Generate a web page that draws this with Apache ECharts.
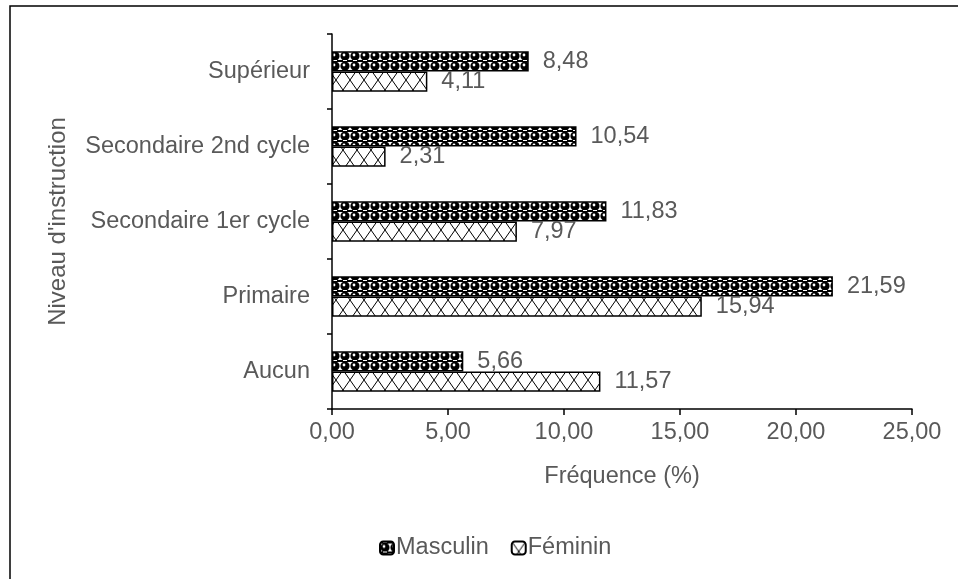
<!DOCTYPE html>
<html>
<head>
<meta charset="utf-8">
<script src="https://cdn.jsdelivr.net/npm/echarts@6/dist/echarts.min.js"></script>
<style>
  html, body { margin: 0; padding: 0; background: #fff; }
  #chart { width: 958px; height: 579px; }
</style>
</head>
<body>
<div id="chart"></div>
<script>
// Niveau d'instruction, bottom to top on the category axis
const categories = ['Aucun', 'Primaire', 'Secondaire 1er cycle', 'Secondaire 2nd cycle', 'Supérieur'];
const masculin = [5.66, 21.59, 11.83, 10.54, 8.48];
const feminin = [11.57, 15.94, 7.97, 2.31, 4.11];
const xTicks = [0, 5, 10, 15, 20, 25];

const FONT = '"Liberation Sans", Arial, sans-serif';
const GREY = '#595959';
const FS = 23.5;

// Dark sphere-like fill for "Masculin"
function spherePattern() {
  const c = document.createElement('canvas');
  c.width = 10; c.height = 10;
  const g = c.getContext('2d');
  g.fillStyle = '#fff';
  g.fillRect(0, 0, 10, 10);
  g.fillStyle = '#000';
  g.fillRect(0, 0, 10, 2);
  g.beginPath();
  g.arc(5, 6, 4.6, 0, Math.PI * 2);
  g.fill();
  g.fillStyle = '#fff';
  g.fillRect(3, 0, 4, 1);
  g.beginPath();
  g.arc(4, 5, 1.4, 0, Math.PI * 2);
  g.fill();
  return c;
}

// White fill with a black diagonal lattice for "Féminin"
function latticePattern() {
  const c = document.createElement('canvas');
  c.width = 14; c.height = 20;
  const g = c.getContext('2d');
  g.fillStyle = '#fff';
  g.fillRect(0, 0, 14, 20);
  g.strokeStyle = '#000';
  g.lineWidth = 1;
  g.beginPath();
  g.moveTo(0, 0); g.lineTo(14, 20);
  g.moveTo(14, 0); g.lineTo(0, 20);
  g.stroke();
  return c;
}

const fmt = v => v.toFixed(2).replace('.', ',');

const chart = echarts.init(document.getElementById('chart'), null, { renderer: 'canvas' });

const labelStyle = {
  show: true,
  position: 'right',
  distance: 14,
  color: GREY,
  fontFamily: FONT,
  fontSize: FS,
  formatter: p => fmt(p.value)
};

chart.setOption({
  animation: false,
  backgroundColor: '#fff',
  graphic: [{
    type: 'rect',
    shape: { x: 10, y: 6, width: 960, height: 590 },
    style: { fill: 'none', stroke: '#000', lineWidth: 1.5 },
    silent: true,
    z: -1
  }],
  grid: { left: 332, top: 34, width: 580, height: 375 },
  legend: {
    top: 531,
    left: 374,
    itemWidth: 14,
    itemHeight: 13,
    itemGap: 22,
    textStyle: { color: GREY, fontFamily: FONT, fontSize: FS, padding: [0, 0, 0, -3] },
    data: ['Masculin', 'Féminin']
  },
  xAxis: {
    type: 'value',
    min: 0,
    max: 25,
    interval: 5,
    name: 'Fréquence (%)',
    nameLocation: 'middle',
    nameGap: 56,
    nameTextStyle: { color: GREY, fontFamily: FONT, fontSize: FS },
    axisLine: { show: true, lineStyle: { color: '#000', width: 1.5 } },
    axisTick: { show: true, length: 6, lineStyle: { color: '#000', width: 1.5 } },
    axisLabel: {
      color: GREY, fontFamily: FONT, fontSize: FS, margin: 12,
      formatter: v => xTicks.includes(v) ? fmt(v) : ''
    },
    splitLine: { show: false }
  },
  yAxis: {
    type: 'category',
    data: categories,
    name: "Niveau d'instruction",
    nameLocation: 'middle',
    nameGap: 262,
    nameRotate: 90,
    nameTextStyle: { color: GREY, fontFamily: FONT, fontSize: 24 },
    axisLine: { show: true, lineStyle: { color: '#000', width: 1.5 } },
    axisTick: { show: true, length: 5, lineStyle: { color: '#000', width: 1.5 } },
    axisLabel: { color: GREY, fontFamily: FONT, fontSize: FS, margin: 22 }
  },
  series: [
    {
      name: 'Masculin',
      type: 'bar',
      data: masculin,
      barGap: '0%',
      barCategoryGap: '46%',
      itemStyle: {
        color: { image: spherePattern(), repeat: 'repeat' },
        borderColor: '#000',
        borderWidth: 1.5
      },
      label: labelStyle
    },
    {
      name: 'Féminin',
      type: 'bar',
      data: feminin,
      barGap: '0%',
      barCategoryGap: '46%',
      itemStyle: {
        color: { image: latticePattern(), repeat: 'repeat' },
        borderColor: '#000',
        borderWidth: 1.5
      },
      label: labelStyle
    }
  ]
});
</script>
</body>
</html>
